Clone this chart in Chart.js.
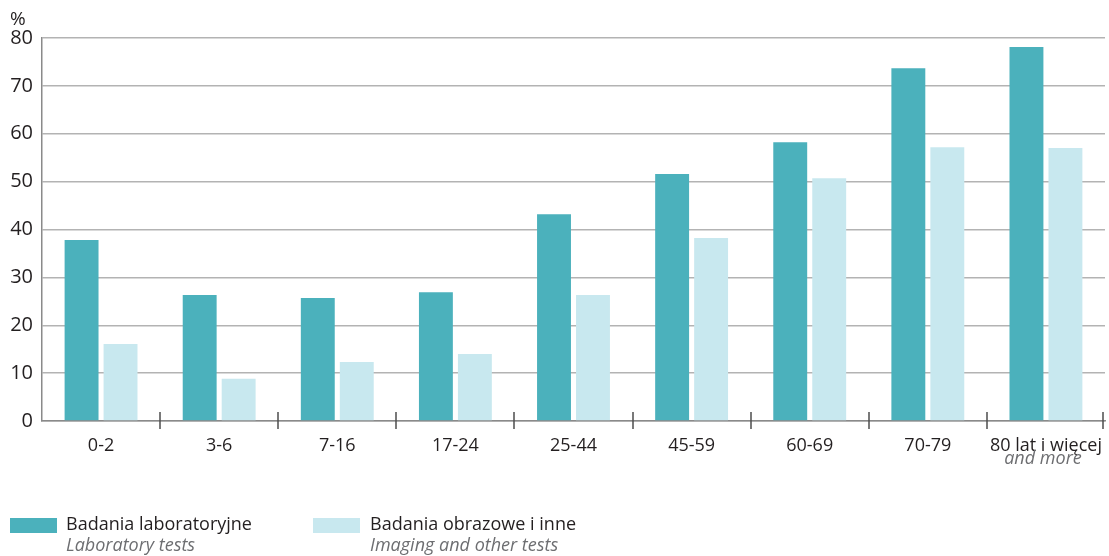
<!DOCTYPE html>
<html>
<head>
<meta charset="utf-8">
<script src="https://cdn.jsdelivr.net/npm/chart.js@4"></script>
<style>
    body { margin: 0; background: #fff; font-family: "Open Sans", sans-serif; }
    #wrap { position: relative; width: 1109px; height: 556px; }
    #unit { position: absolute; left: 10px; top: 5px; font-size: 19px; color: #231f20; }
    .swatch { position: absolute; width: 47px; height: 15px; }
    .leg { position: absolute; font-size: 18px; line-height: 21px; color: #231f20; }
    .leg i { display: block; color: #6d6e71; }
</style>
</head>
<body>
<div id="wrap">
    <canvas id="chart" width="1109" height="556"></canvas>
    <div id="unit">%</div>
    <div class="swatch" style="left:10px;top:518px;background:#4bb1bc"></div>
    <div class="leg" style="left:66px;top:513px">Badania laboratoryjne<i>Laboratory tests</i></div>
    <div class="swatch" style="left:313px;top:518px;background:#c8e8ef"></div>
    <div class="leg" style="left:370px;top:513px">Badania obrazowe i inne<i>Imaging and other tests</i></div>
</div>
<script>
// age groups (x axis)
const ageGroups = ['0-2', '3-6', '7-16', '17-24', '25-44', '45-59', '60-69', '70-79', '80 lat i więcej'];
// % with laboratory tests
const labTests = [37.8, 26.3, 25.7, 26.9, 43.2, 51.6, 58.2, 73.7, 78.1];
// % with imaging and other tests
const imagingTests = [16.1, 8.8, 12.3, 14.0, 26.3, 38.2, 50.7, 57.2, 57.0];

// draws the category separator ticks and the english "and more" line
const extras = {
    id: 'extras',
    afterDraw(chart) {
        const ctx = chart.ctx;
        const x = chart.scales.x;
        const bottom = chart.chartArea.bottom;
        const step = x.width / ageGroups.length;
        ctx.save();
        ctx.strokeStyle = '#4d4d4d';
        ctx.lineWidth = 1.5;
        for (let i = 1; i <= ageGroups.length; i++) {
            const px = Math.min(Math.round(x.left + i * step), chart.width - 6);
            ctx.beginPath();
            ctx.moveTo(px, bottom - 9);
            ctx.lineTo(px, bottom + 8);
            ctx.stroke();
        }
        ctx.font = 'italic 18px "Open Sans", sans-serif';
        ctx.fillStyle = '#6d6e71';
        ctx.textAlign = 'center';
        ctx.textBaseline = 'middle';
        ctx.fillText('and more', x.getPixelForTick(ageGroups.length - 1) - 3, 459);
        ctx.restore();
    }
};

const ctx = document.getElementById('chart').getContext('2d');
new Chart(ctx, {
    type: 'bar',
    data: {
        labels: ageGroups,
        datasets: [{
            label: 'Badania laboratoryjne',
            data: labTests,
            backgroundColor: '#4bb1bc'
        }, {
            label: 'Badania obrazowe i inne',
            data: imagingTests,
            backgroundColor: '#c8e8ef'
        }]
    },
    options: {
        responsive: false,
        animation: false,
        layout: { padding: { top: 38, right: 4, left: 0, bottom: 0 } },
        plugins: {
            legend: { display: false },
            tooltip: { enabled: false }
        },
        datasets: {
            bar: { categoryPercentage: 0.66, barPercentage: 0.87 }
        },
        scales: {
            x: {
                grid: { display: false },
                border: { display: true, color: '#8a8a8a', width: 1.5 },
                ticks: {
                    color: '#231f20',
                    font: { family: '"Open Sans", sans-serif', size: 18 },
                    padding: 6,
                    maxRotation: 0,
                    autoSkip: false
                },
                afterFit(scale) { scale.height = 135; }
            },
            y: {
                min: 0,
                max: 80,
                grid: { color: '#b3b3b3', lineWidth: 1.5, drawTicks: false },
                border: { display: true, color: '#8a8a8a', width: 1.5 },
                ticks: {
                    stepSize: 10,
                    color: '#231f20',
                    font: { family: '"Open Sans", sans-serif', size: 20 },
                    padding: 9
                },
                afterFit(scale) { scale.width = 42; }
            }
        }
    },
    plugins: [extras]
});
</script>
</body>
</html>
